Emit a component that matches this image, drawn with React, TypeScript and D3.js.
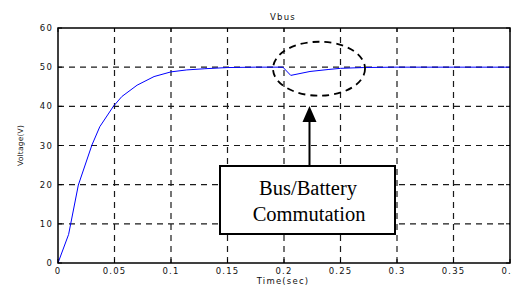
import React from "react";
import * as d3 from "d3";

// Vbus trace (time in s, voltage in V)
const timeSec = [0, 0.0094, 0.018, 0.03, 0.037, 0.049, 0.0565, 0.07, 0.085, 0.1, 0.114, 0.13, 0.15, 0.175, 0.199, 0.206, 0.223, 0.239, 0.25, 0.27, 0.297, 0.35, 0.4];
const voltage = [0, 7.3, 19.9, 30.1, 34.8, 40, 42.5, 45.4, 47.6, 48.8, 49.3, 49.6, 49.9, 50, 50, 47.9, 48.9, 49.4, 49.7, 49.9, 50, 50, 50];

const xTicks = [0, 0.05, 0.1, 0.15, 0.2, 0.25, 0.3, 0.35, 0.4];
const xTickLabels = ["0", "0.05", "0.1", "0.15", "0.2", "0.25", "0.3", "0.35", "0.4"];
const yTicks = [0, 10, 20, 30, 40, 50, 60];
const yTickLabels = ["0", "10", "20", "30", "40", "50", "60"];

const W = 512;
const H = 289;
const margin = { left: 58, right: 2, top: 28, bottom: 26 };

const App = () => {
  const x = d3.scaleLinear().domain([0, 0.4]).range([margin.left, W - margin.right]);
  const y = d3.scaleLinear().domain([0, 60]).range([H - margin.bottom, margin.top]);

  const pts = timeSec.map((t, i) => [t, voltage[i]] as [number, number]);
  const line = d3
    .line<[number, number]>()
    .x(d => x(d[0]))
    .y(d => y(d[1]));

  const x0 = x(0), x1 = x(0.4), y0 = y(0), y1 = y(60);
  const labelFont = { fontFamily: "DejaVu Sans", fontSize: 8.5, letterSpacing: 1.2 };

  // annotation placed on the dip at t = 0.2
  const ecx = x(0.231), ecy = y(49.6);

  return (
    <svg width={W} height={H} style={{ position: "absolute", left: 0, top: 0, background: "#fff" }}>
      <rect x={0} y={0} width={W} height={H} fill="#fff" />

      {/* grid */}
      <g stroke="#1a1a1a" strokeWidth={1.2} strokeDasharray="6,5">
        {xTicks.slice(1, -1).map(t => (
          <line key={"gx" + t} x1={x(t)} x2={x(t)} y1={y0} y2={y1} />
        ))}
        {yTicks.slice(1, -1).map(v => (
          <line key={"gy" + v} x1={x0} x2={x1} y1={y(v)} y2={y(v)} />
        ))}
      </g>

      {/* inward ticks */}
      <g stroke="#000" strokeWidth={1}>
        {xTicks.map(t => (
          <g key={"tx" + t}>
            <line x1={x(t)} x2={x(t)} y1={y0} y2={y0 - 4} />
            <line x1={x(t)} x2={x(t)} y1={y1} y2={y1 + 4} />
          </g>
        ))}
        {yTicks.map(v => (
          <g key={"ty" + v}>
            <line x1={x0} x2={x0 + 4} y1={y(v)} y2={y(v)} />
            <line x1={x1} x2={x1 - 4} y1={y(v)} y2={y(v)} />
          </g>
        ))}
      </g>

      <path d={line(pts) || ""} fill="none" stroke="#0000ff" strokeWidth={1} />

      <rect x={x0} y={y1} width={x1 - x0} height={y0 - y1} fill="none" stroke="#000" strokeWidth={1.5} />

      {/* tick labels */}
      <g {...labelFont} fill="#111">
        {xTicks.map((t, i) => (
          <text key={"lx" + t} x={x(t)} y={y0 + 11} textAnchor="middle">
            {xTickLabels[i]}
          </text>
        ))}
        {yTicks.map((v, i) => (
          <text key={"ly" + v} x={x0 - 5} y={y(v) + 3} textAnchor="end">
            {yTickLabels[i]}
          </text>
        ))}
      </g>

      <text x={283} y={20} textAnchor="middle" {...labelFont} fill="#111">Vbus</text>
      <text x={283} y={284} textAnchor="middle" {...labelFont} fill="#111">Time(sec)</text>
      <text
        transform={`translate(23,${(y0 + y1) / 2}) rotate(-90)`}
        textAnchor="middle"
        fontFamily="DejaVu Sans"
        fontSize={7.5}
        letterSpacing={0.2}
        fill="#111"
      >
        Voltage(V)
      </text>

      {/* annotation */}
      <ellipse cx={ecx} cy={ecy} rx={46} ry={27} fill="none" stroke="#000" strokeWidth={1.8} strokeDasharray="7,5" />
      <line x1={309.5} x2={309.5} y1={166} y2={120} stroke="#000" strokeWidth={2} />
      <path d="M309.5,106 L302.5,122 L316.5,122 Z" fill="#000" />
      <rect x={220} y={166} width={175} height={68} fill="#fff" stroke="#000" strokeWidth={2} />
      <g fontFamily="Liberation Serif" fontSize={20.5} textAnchor="middle" fill="#000">
        <text x={308} y={195}>Bus/Battery</text>
        <text x={309} y={221}>Commutation</text>
      </g>
    </svg>
  );
};

export default App;
